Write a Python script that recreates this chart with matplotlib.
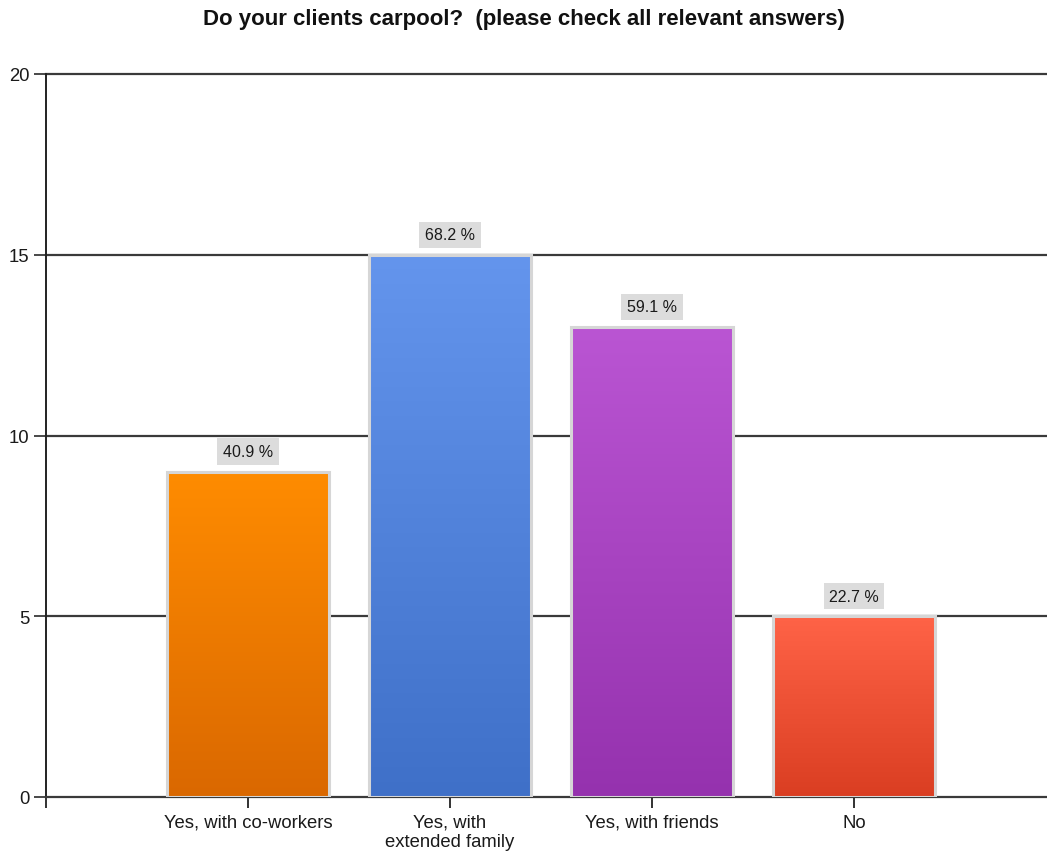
import matplotlib
matplotlib.use("Agg")

import numpy as np
import matplotlib.pyplot as plt
from matplotlib.colors import LinearSegmentedColormap

# data
categories = ["Yes, with co-workers", "Yes, with\nextended family", "Yes, with friends", "No"]
counts = [9, 15, 13, 5]
percents = ["40.9 %", "68.2 %", "59.1 %", "22.7 %"]
top_colors = ["#FF8C00", "#6495ED", "#BA55D3", "#FF6347"]
bottom_colors = ["#DA6800", "#3F70C8", "#9532AE", "#DA3E22"]

plt.rcParams["font.family"] = ["Liberation Sans", "DejaVu Sans"]

fig = plt.figure(figsize=(10.47, 8.54), dpi=100)
ax = fig.add_axes([46 / 1047, 1 - 798 / 854, 1010 / 1047, (798 - 75) / 854])

x = np.arange(1, len(categories) + 1)
width = 0.8

# grid lines behind bars
for yv in [5, 10, 15, 20]:
    ax.axhline(yv, color="#3a3a3a", lw=1.6, zorder=1, clip_on=False)

bars = ax.bar(x, counts, width=width, facecolor="none",
              edgecolor="#d6d6d6", linewidth=2.2, zorder=4)

grad = np.linspace(0, 1, 256).reshape(-1, 1)
for b, c1, c2 in zip(bars, top_colors, bottom_colors):
    cmap = LinearSegmentedColormap.from_list("g", [c2, c1])
    x0 = b.get_x()
    h = b.get_height()
    im = ax.imshow(grad, cmap=cmap, aspect="auto", origin="lower",
                   extent=[x0, x0 + b.get_width(), 0, h], zorder=3)
    im.set_clip_path(b)

for xi, v, p in zip(x, counts, percents):
    ax.annotate(p, (xi, v), xytext=(0, 14.5), textcoords="offset points",
                ha="center", va="center", fontsize=11.5, color="#1a1a1a", zorder=5,
                bbox=dict(boxstyle="square,pad=0.35", facecolor="#dcdcdc",
                          edgecolor="none"))

ax.set_xlim(0, 5)
ax.set_ylim(0, 20)
ax.set_yticks([0, 5, 10, 15, 20])
ax.set_xticks([0] + list(x))
ax.set_xticklabels([""] + categories, fontsize=13.3, color="#1a1a1a")
ax.tick_params(axis="y", labelsize=13.3, labelcolor="#1a1a1a", length=9, width=1.3,
               color="#3a3a3a", pad=3)
ax.tick_params(axis="x", length=8, width=1.3, color="#222222", pad=4)

for s in ["top", "right"]:
    ax.spines[s].set_visible(False)
ax.spines["left"].set_color("#222222")
ax.spines["left"].set_linewidth(1.4)
ax.spines["bottom"].set_color("#3a3a3a")
ax.spines["bottom"].set_linewidth(1.6)

fig.text(0.5, 1 - 19 / 854, "Do your clients carpool?  (please check all relevant answers)",
         ha="center", va="center", fontsize=16, fontweight="bold", color="#111111")

fig.savefig("out.png", dpi=100)
plt.close(fig)
